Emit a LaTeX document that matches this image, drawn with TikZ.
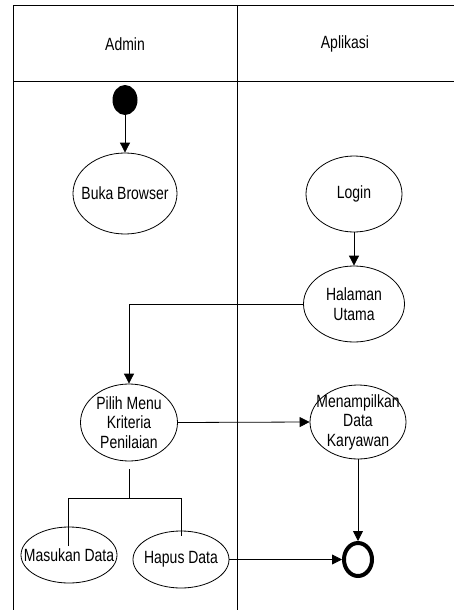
\documentclass[tikz,border=0pt]{standalone}
\usepackage{fontspec}
\setmainfont{Liberation Sans}[FakeStretch=0.79]
\usetikzlibrary{shapes.geometric,arrows.meta}
\tikzset{
  txt/.style={inner sep=0pt,align=center,font=\fontsize{17.7}{19.5}\selectfont},
  act/.style={ellipse,draw,inner sep=0pt},
  flow/.style={-{Triangle[length=10pt,width=10pt]}}
}
\begin{document}
\begin{tikzpicture}[x=1pt,y=-1pt,line width=.8pt]
\useasboundingbox (0,0) rectangle (454,610);
\draw (454,5)--(13,5)--(13,610);
\draw (13,81)--(454,81);
\draw (237.5,5)--(237.5,610);
\node[txt] (admin) at (125,44) {Admin};
\node[txt] (aplikasi) at (345,44) {Aplikasi};
\node[ellipse,fill,inner sep=0pt,minimum width=25,minimum height=30] (start) at (125,100) {};
\node[act,minimum width=104,minimum height=81,label={[txt]center:Buka Browser}] (buka) at (125,193.5) {};
\node[act,minimum width=96,minimum height=76,label={[txt]center:Login}] (login) at (354,194) {};
\node[act,minimum width=101,minimum height=76,label={[txt]center:Halaman\\Utama}] (halaman) at (354,304) {};
\node[act,minimum width=97,minimum height=77,label={[txt]center:Pilih Menu\\Kriteria\\Penilaian}] (pilih) at (129,422.5) {};
\node[act,minimum width=96,minimum height=74,label={[txt]center:Menampilkan\\Data\\Karyawan}] (tampil) at (358,422) {};
\node[act,minimum width=96,minimum height=56,label={[txt]center:Masukan Data}] (masukan) at (69,555) {};
\node[act,minimum width=96,minimum height=57,label={[txt]center:Hapus Data}] (hapus) at (181,559.5) {};
\node[ellipse,draw,line width=4pt,inner sep=0pt,minimum width=28,minimum height=33] (end) at (358,559.5) {};
\coordinate (fork) at (129,498);
\draw[flow] (start) -- (buka);
\draw[flow] (login) -- (halaman);
\draw[flow] (halaman.west) -| (pilih.north);
\draw[flow] (pilih.east) -- (tampil.west);
\draw[flow] (tampil) -- (end);
\draw[flow] (hapus.east) -- (end.west);
\draw ([yshift=-8pt]pilih.south) -- (fork);
\draw (68,546)--(68,498)--(181,498)--(181,536);
\end{tikzpicture}
\end{document}
